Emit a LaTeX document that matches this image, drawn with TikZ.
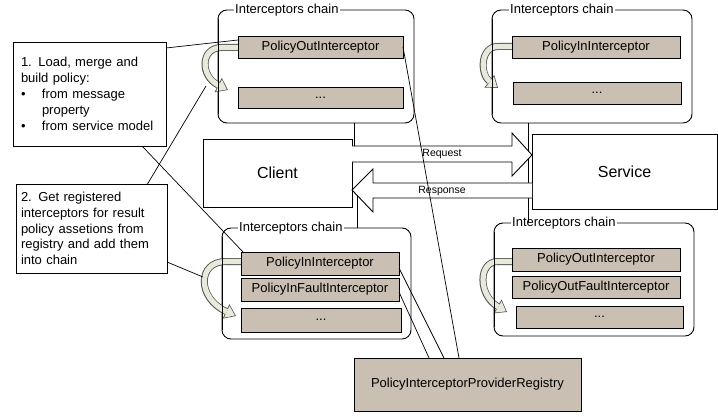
\documentclass[tikz,border=0pt]{standalone}
\usepackage{fontspec}
\setmainfont{Liberation Sans}
\usetikzlibrary{arrows.meta,calc}
\definecolor{boxfill}{HTML}{C9BFB2}
\definecolor{arrfill}{HTML}{E6E9DC}
\definecolor{arrline}{HTML}{55554D}
\tikzset{
  ibox/.style={draw, fill=boxfill, inner sep=0pt, outer sep=0pt, line width=0.9pt,
    font=\fontsize{13}{15}\selectfont},
  wbox/.style={draw, fill=white, inner sep=0pt, outer sep=0pt, line width=0.9pt},
  chainframe/.style={draw, rounded corners=9pt, inner sep=0pt, outer sep=0pt, line width=0.9pt},
  flabel/.style={fill=white, inner xsep=1pt, inner ysep=0pt, anchor=west,
    font=\fontsize{13}{15}\selectfont},
  conn/.style={line width=0.7pt},
  blockarrow/.style={draw, fill=white, line width=0.9pt},
  arrlbl/.style={font=\fontsize{10.5}{12}\selectfont, inner sep=0pt},
  carrout/.style={line width=7pt, draw=arrline,
    -{Triangle[width=16pt,length=11pt,line width=0pt,fill=arrline]}},
  carrin/.style={line width=5.2pt, draw=arrfill, shorten >=1.3pt,
    -{Triangle[width=13pt,length=8.8pt,line width=0pt,fill=arrfill]}},
}
\newcommand\curvarr[1]{\draw[carrout] #1; \draw[carrin] #1;}
\begin{document}
\begin{tikzpicture}[x=1pt,y=-1pt]
\useasboundingbox[fill=white] (0,0) rectangle (718,417);

% frames
\node[chainframe, minimum width=196pt, minimum height=113pt] (frTL) at (316,66.5) {};
\node[chainframe, minimum width=200pt, minimum height=113pt] (frTR) at (592,66.5) {};
\node[chainframe, minimum width=189pt, minimum height=111pt] (frBL) at (316.5,283.5) {};
\node[chainframe, minimum width=200pt, minimum height=113pt] (frBR) at (594,279.5) {};
\node[flabel] (lTL) at ([xshift=16pt]frTL.north west) {Interceptors chain};
\node[flabel] (lTR) at ([xshift=17pt]frTR.north west) {Interceptors chain};
\node[flabel] (lBL) at ([xshift=16pt]frBL.north west) {Interceptors chain};
\node[flabel] (lBR) at ([xshift=17pt]frBR.north west) {Interceptors chain};

% client / service
\node[wbox, minimum width=149pt, minimum height=68pt, font=\fontsize{16}{18}\selectfont] (client) at (277.5,173) {Client};
\node[wbox, minimum width=185pt, minimum height=75pt, font=\fontsize{16}{18}\selectfont] (service) at (624.5,171.5) {Service};

% vertical links
\draw[conn] ($(frTR.south)+(-64,0)$) -- ($(frBR.north)+(-66,0)$);

% block arrows
\draw[blockarrow] ($(client.east)+(0,-27)$) -- ($(service.west)+(-20,-25.5)$) -- ++(0,-13)
  -- ($(service.west)+(0,-16.5)$) -- ($(service.west)+(-20,4.5)$) -- ++(0,-14)
  -- ($(client.east)+(0,-11)$);
\draw[blockarrow] ($(service.west)+(0,11.5)$) -- ($(client.east)+(21,10)$) -- ($(client.east)+(21,-4)$)
  -- ($(client.east)+(0,17)$) -- ($(client.east)+(21,39)$) -- ($(client.east)+(21,25)$)
  -- ($(service.west)+(0,26.5)$);
\node[arrlbl] (req) at (442,154) {Request};
\node[arrlbl] (resp) at (442,190.5) {Response};

\draw[conn] ($(frTL.south)+(38,0)$) -- ++(0,23);
\draw[conn] ($(frBL.north)+(40.5,0)$) -- ++(0,-33);

% curved arrows
\curvarr{(238,47.5) -- (222,47.5) .. controls (200,47.5) and (200,76) .. (228,90)}
\curvarr{(241,261.5) -- (226,261.5) .. controls (197,261.5) and (197,298) .. (236,316)}
\curvarr{(512,46.5) -- (498,46.5) .. controls (480,46.5) and (480,74) .. (498,88)}
\curvarr{(512,261.5) -- (498,261.5) .. controls (478,261.5) and (478,295) .. (507,312)}
\coordinate (hitA) at (206,86);
\coordinate (hitB) at (203,277);

% redraw frame edges over curved arrows
\draw[line width=0.9pt] ($(frTL.north west)+(0,9)$) -- ($(frTL.south west)+(0,-9)$);
\draw[line width=0.9pt] ($(frBL.north west)+(0,9)$) -- ($(frBL.south west)+(0,-9)$);
\draw[line width=0.9pt] ($(frTR.north west)+(0,9)$) -- ($(frTR.south west)+(0,-9)$);
\draw[line width=0.9pt] ($(frBR.north west)+(0,9)$) -- ($(frBR.south west)+(0,-9)$);

% interceptor boxes
\node[ibox, minimum width=165pt, minimum height=22pt] (poTL) at (320.5,47) {PolicyOutInterceptor};
\node[ibox, minimum width=165pt, minimum height=21pt] (dTL) at (320.5,97.5) {...};
\node[ibox, minimum width=168pt, minimum height=22pt] (piTR) at (596,47) {PolicyInInterceptor};
\node[ibox, minimum width=168pt, minimum height=22pt] (dTR) at (597,93) {...};
\node[ibox, minimum width=158pt, minimum height=23pt] (piBL) at (320,263.5) {PolicyInInterceptor};
\node[ibox, minimum width=158pt, minimum height=23pt] (pifBL) at (320,289.5) {PolicyInFaultInterceptor};
\node[ibox, minimum width=160pt, minimum height=24pt] (dBL) at (321,320) {...};
\node[ibox, minimum width=168pt, minimum height=23pt] (poBR) at (596,259.5) {PolicyOutInterceptor};
\node[ibox, minimum width=168pt, minimum height=22pt] (pofBR) at (596,287) {PolicyOutFaultInterceptor};
\node[ibox, minimum width=167pt, minimum height=22pt] (dBR) at (599.5,317) {...};
\node[ibox, minimum width=227pt, minimum height=53pt] (reg) at (467.5,384.5) {PolicyInterceptorProviderRegistry};

% note boxes
\node[wbox, minimum width=153pt, minimum height=104pt, text width=137pt, inner xsep=8pt, align=left,
  font=\fontsize{13}{16}\selectfont] (note1) at (89.5,94)
  {1. Load, merge and\\build policy:\\\makebox[21pt][l]{•}from message\\\hspace*{21pt}property\\\makebox[21pt][l]{•}from service model};
\node[wbox, minimum width=151pt, minimum height=89pt, text width=141pt, inner xsep=5pt, align=left,
  font=\fontsize{13}{15.8}\selectfont] (note2) at (91.5,228.5)
  {2. Get registered\\interceptors for result\\policy assetions from\\registry and add them\\into chain};

% callout lines
\draw[conn] ([yshift=-6pt]note1.north east) -- ([yshift=-4pt]poTL.north west);
\draw[conn] ([xshift=52.5pt]note1.south) -- ([xshift=2pt]piBL.north west);
\draw[conn] ([xshift=56pt]note2.north) -- (hitA);
\draw[conn] ([yshift=-33.5pt]note2.east) -- (hitB);
\draw[conn] (poTL.east) -- ([xshift=-8.5pt]reg.north);
\draw[conn] ([yshift=-4.5pt]piBL.east) -- ([xshift=-23.5pt]reg.north);
\draw[conn] ([yshift=-2.5pt]pifBL.east) -- ([xshift=-38.5pt]reg.north);
\end{tikzpicture}
\end{document}
